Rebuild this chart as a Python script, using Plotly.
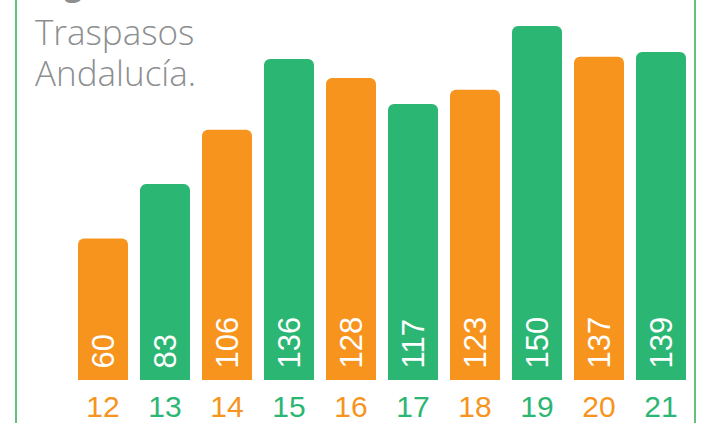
import plotly.graph_objects as go

years = ["12", "13", "14", "15", "16", "17", "18", "19", "20", "21"]
values = [60, 83, 106, 136, 128, 117, 123, 150, 137, 139]
colors = ["#F7941E", "#2BB673", "#F7941E", "#2BB673", "#F7941E",
          "#2BB673", "#F7941E", "#2BB673", "#F7941E", "#2BB673"]
title_lines = ["Traspasos", "Andalucía."]
figure_label = "Figura 3.6."

W, H = 707, 423
ML, MR, MT, MB = 72, 15, 0, 43
pw = W - ML - MR
ph = H - MT - MB

def px_x(p):
    return (p - ML) / pw

def px_y(p):
    return (H - MB - p) / ph

fig = go.Figure()
fig.add_trace(go.Bar(
    x=years, y=values,
    marker=dict(color=colors, line=dict(width=0)),
    text=["\u00a0" + str(v) for v in values],
    textposition="inside",
    insidetextanchor="start",
    textangle=-90,
    textfont=dict(family="Liberation Sans, Arial, sans-serif", size=31, color="white"),
    hoverinfo="skip",
))

ticktext = [f'<span style="color:{c}">{y}</span>' for y, c in zip(years, colors)]

fig.update_layout(
    width=W, height=H,
    margin=dict(l=ML, r=MR, t=MT, b=MB),
    paper_bgcolor="white", plot_bgcolor="white",
    bargap=0.194,
    barcornerradius=6,
    showlegend=False,
    xaxis=dict(
        tickvals=years, ticktext=ticktext,
        tickfont=dict(family="Liberation Sans, Arial, sans-serif", size=30),
        showgrid=False, zeroline=False, showline=False, ticks="",
        ticklabelstandoff=6,
    ),
    yaxis=dict(range=[0, ph / 2.36], visible=False, showgrid=False, zeroline=False),
)

# Title text
fig.add_annotation(
    text=f"<b>{figure_label}</b>", xref="paper", yref="paper",
    x=px_x(35), y=px_y(6), xanchor="left", yanchor="bottom",
    showarrow=False, align="left",
    font=dict(family="Open Sans, sans-serif", size=32, color="#8C8E90"),
)
for i, line in enumerate(title_lines):
    fig.add_annotation(
        text=line, xref="paper", yref="paper",
        x=px_x(33), y=px_y(31 + 41 * i), xanchor="left", yanchor="middle",
        showarrow=False, align="left",
        font=dict(family="Open Sans, sans-serif", size=35, color="#8C8E90", weight=300),
    )

# Frame lines
for xp in (16, 695):
    fig.add_shape(type="line", xref="paper", yref="paper",
                  x0=px_x(xp), x1=px_x(xp), y0=px_y(H), y1=px_y(0),
                  line=dict(color="#62C17A", width=2), layer="above")

fig.write_html("out.html", config={"displayModeBar": False},
               post_script="document.body.style.margin='0';document.body.style.padding='0';")
